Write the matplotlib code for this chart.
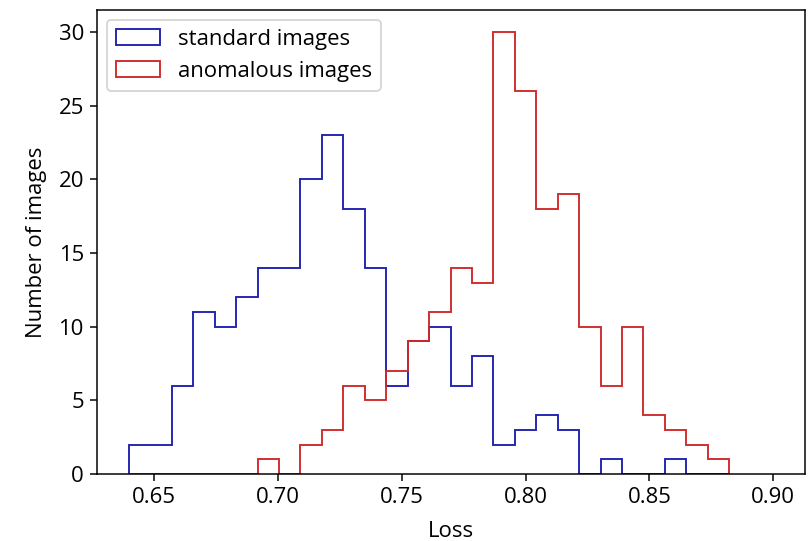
import numpy as np
import matplotlib
matplotlib.use("Agg")
import matplotlib.pyplot as plt

plt.rcParams['font.family'] = ['Open Sans', 'DejaVu Sans']
plt.rcParams['font.size'] = 11.8

# shared bin edges (28 bins)
bin_lo, bin_hi, n_bins = 0.6398, 0.8822, 28

standard_counts = [2, 2, 6, 11, 10, 12, 14, 14, 20, 23, 18, 14, 6, 9,
                   10, 6, 8, 2, 3, 4, 3, 0, 1, 0, 0, 1, 0, 0]
anomalous_counts = [0, 0, 0, 0, 0, 0, 1, 0, 2, 3, 6, 5, 7, 9,
                    11, 14, 13, 30, 26, 18, 19, 10, 6, 10, 4, 3, 2, 1]

edges = np.linspace(bin_lo, bin_hi, n_bins + 1)
centers = (edges[:-1] + edges[1:]) / 2

fig = plt.figure(figsize=(6.0, 541 / 135), dpi=135)
ax = fig.add_axes([0.1198, 0.1238, 0.9938 - 0.1198, 0.9815 - 0.1238])

ax.hist(centers, bins=edges, weights=standard_counts, histtype='step',
        color='#2020b0', linewidth=1.0, label='standard images')
ax.hist(centers, bins=edges, weights=anomalous_counts, histtype='step',
        color='#d02828', linewidth=1.0, label='anomalous images')

ax.set_xlim(0.6269, 0.9128)
ax.set_xticks([0.65, 0.70, 0.75, 0.80, 0.85, 0.90])
ax.set_xlabel('Loss', labelpad=7)
ax.set_ylabel('Number of images', labelpad=6)
ax.legend(loc='upper left', borderaxespad=0.45)

fig.savefig('out.png', dpi=135)
